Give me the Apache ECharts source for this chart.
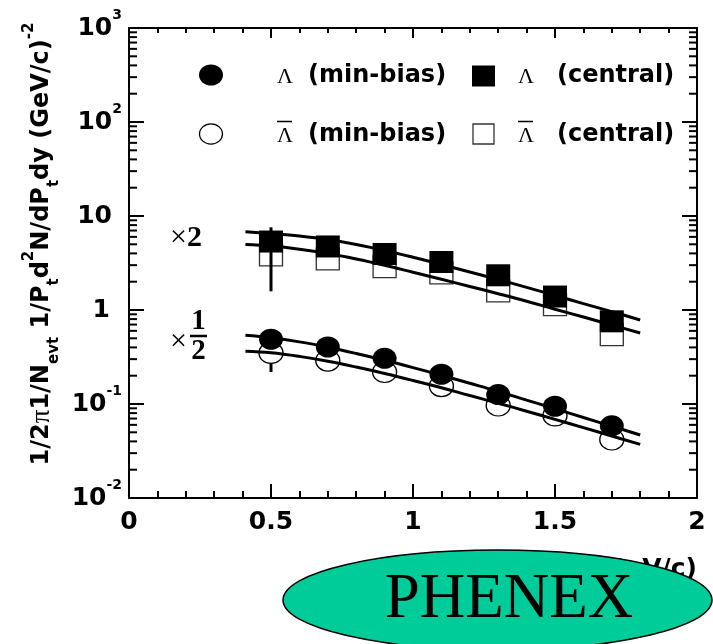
<!DOCTYPE html>
<html>
<head>
<meta charset="utf-8">
<script src="https://cdn.jsdelivr.net/npm/echarts@6/dist/echarts.min.js"></script>
<style>
  html, body { margin: 0; padding: 0; background: #ffffff; }
  #chart { width: 713px; height: 644px; }
</style>
</head>
<body>
<div id="chart"></div>
<script>
// Lambda / anti-Lambda transverse momentum spectra (central scaled x2, min-bias scaled x1/2)
const ptPoints = [0.5, 0.7, 0.9, 1.1, 1.3, 1.5, 1.7];
const lambdaCentral = [5.35, 4.74, 3.94, 3.24, 2.34, 1.39, 0.758];
const antiLambdaCentral = [3.85, 3.49, 2.90, 2.48, 1.60, 1.14, 0.546];
const lambdaMinBias = [0.488, 0.404, 0.306, 0.207, 0.126, 0.0946, 0.0586];
const antiLambdaMinBias = [0.349, 0.290, 0.219, 0.155, 0.0964, 0.0755, 0.0419];

// error bars drawn at pT = 0.5: [pT, low, high]
const centralErrorBar = [0.5, 1.58, 7.58];
const minBiasErrorBar = [0.5, 0.219, 0.48];

// fitted curves
const fitPt = [0.41, 0.5, 0.6, 0.7, 0.8, 0.9, 1.0, 1.1, 1.2, 1.3, 1.4, 1.5, 1.6, 1.7, 1.8];
const fitLambdaCentral = [6.81, 6.50, 6.11, 5.61, 4.98, 4.30, 3.64, 3.05, 2.54, 2.11, 1.74, 1.43, 1.17, 0.962, 0.783];
const fitAntiLambdaCentral = [4.98, 4.79, 4.43, 3.99, 3.49, 2.99, 2.52, 2.12, 1.78, 1.49, 1.24, 1.02, 0.843, 0.693, 0.569];
const fitLambdaMinBias = [0.538, 0.507, 0.458, 0.402, 0.345, 0.292, 0.244, 0.202, 0.166, 0.136, 0.110, 0.0891, 0.0719, 0.0581, 0.0468];
const fitAntiLambdaMinBias = [0.364, 0.351, 0.321, 0.285, 0.247, 0.211, 0.178, 0.149, 0.123, 0.102, 0.0838, 0.0686, 0.0560, 0.0457, 0.0372];

// axes
const xMin = 0, xMax = 2, xStep = 0.5;
const yMin = 0.01, yMax = 1000;
const yTickValues = [0.01, 0.1, 1, 10, 100, 1000];
const yTickLabels = ['10{sup|-2}', '10{sup|-1}', '1{pad1|}', '10{pad10|}', '10{sup|2}', '10{sup|3}'];
const yMinorTickValues = [];
for (let e = -2; e < 3; e++) {
  for (let m = 2; m <= 9; m++) yMinorTickValues.push(m * Math.pow(10, e));
}

const SANS = '"DejaVu Sans", "Liberation Sans", sans-serif';
const SERIF = '"Liberation Serif", "DejaVu Serif", serif';

const pair = (xs, ys) => xs.map((x, i) => [x, ys[i]]);

const chart = echarts.init(document.getElementById('chart'), null, { renderer: 'canvas' });

const axisLineStyle = { show: true, onZero: false, lineStyle: { color: '#000', width: 2 } };

function errorBarRenderer(params, api) {
  const x = api.value(0);
  const lo = api.coord([x, api.value(1)]);
  const hi = api.coord([x, api.value(2)]);
  return {
    type: 'line',
    shape: { x1: lo[0], y1: lo[1], x2: hi[0], y2: hi[1] },
    style: { stroke: '#000', lineWidth: 3 }
  };
}

const fitLine = (data) => ({
  type: 'line',
  data: data,
  smooth: 0.4,
  symbol: 'none',
  z: 3,
  silent: true,
  lineStyle: { color: '#000', width: 3 }
});

const option = {
  animation: false,
  backgroundColor: '#ffffff',
  grid: { left: 129, right: 16, top: 28, bottom: 146, outerBoundsMode: 'none' },
  xAxis: [
    {
      type: 'value', position: 'bottom', min: xMin, max: xMax, interval: xStep,
      axisLine: axisLineStyle,
      axisTick: { show: true, inside: true, length: 14, lineStyle: { color: '#000', width: 2 } },
      minorTick: { show: true, splitNumber: 5, length: 7, lineStyle: { color: '#000', width: 2 } },
      splitLine: { show: false },
      axisLabel: {
        show: true, margin: 12, color: '#000',
        fontFamily: SANS, fontWeight: 'bold', fontSize: 25,
        formatter: (v) => String(v)
      },
      name: 'P{t|t} (GeV/c)',
      nameLocation: 'end',
      nameGap: 0,
      nameTextStyle: {
        color: '#000', fontFamily: SANS, fontWeight: 'bold', fontSize: 25,
        align: 'right', verticalAlign: 'top', padding: [59, 0, 0, 0],
        rich: { t: { fontFamily: SANS, fontWeight: 'bold', fontSize: 15, verticalAlign: 'bottom', lineHeight: 24 } }
      }
    },
    {
      type: 'value', position: 'top', min: xMin, max: xMax, interval: xStep,
      axisLine: axisLineStyle,
      axisTick: { show: true, inside: true, length: 10, lineStyle: { color: '#000', width: 2 } },
      minorTick: { show: true, splitNumber: 5, length: 5, lineStyle: { color: '#000', width: 2 } },
      splitLine: { show: false },
      axisLabel: { show: false }
    }
  ],
  yAxis: [
    {
      type: 'log', logBase: 10, min: yMin, max: yMax, splitNumber: 5, position: 'left',
      axisLine: axisLineStyle,
      axisTick: { show: true, inside: true, length: 15, lineStyle: { color: '#000', width: 2 } },
      splitLine: { show: false },
      axisLabel: {
        show: true, margin: 7, color: '#000',
        fontFamily: SANS, fontWeight: 'bold', fontSize: 25, lineHeight: 40,
        formatter: (v) => {
          const e = Math.round(Math.log10(v));
          const i = yTickValues.findIndex((t) => Math.round(Math.log10(t)) === e);
          return i >= 0 ? yTickLabels[i] : '';
        },
        rich: {
          sup: { fontFamily: SANS, fontWeight: 'bold', fontSize: 14, verticalAlign: 'top', lineHeight: 14, color: '#000' },
          pad1: { width: 12 },
          pad10: { width: 10 }
        }
      }
    },
    {
      type: 'log', logBase: 10, min: yMin, max: yMax, splitNumber: 5, position: 'right',
      axisLine: axisLineStyle,
      axisTick: { show: true, inside: true, length: 15, lineStyle: { color: '#000', width: 2 } },
      splitLine: { show: false },
      axisLabel: { show: false }
    }
  ],
  series: [
    // minor ticks of the logarithmic axes (left and right frame edges)
    {
      type: 'custom',
      silent: true,
      z: 1,
      data: yMinorTickValues.map((v) => [xMin, v]),
      renderItem: (params, api) => {
        const v = api.value(1);
        const l = api.coord([xMin, v]);
        const r = api.coord([xMax, v]);
        return {
          type: 'group',
          children: [
            { type: 'line', shape: { x1: l[0], y1: l[1], x2: l[0] + 8, y2: l[1] }, style: { stroke: '#000', lineWidth: 2 } },
            { type: 'line', shape: { x1: r[0] - 8, y1: r[1], x2: r[0], y2: r[1] }, style: { stroke: '#000', lineWidth: 2 } }
          ]
        };
      }
    },
    // min-bias error bar, underneath the markers
    {
      type: 'custom', silent: true, z: 1,
      data: [minBiasErrorBar],
      renderItem: errorBarRenderer
    },
    {
      name: 'anti-Lambda (min-bias)', type: 'scatter', z: 2,
      symbol: 'circle', symbolSize: [24, 21],
      itemStyle: { color: '#ffffff', borderColor: '#000', borderWidth: 1.3, opacity: 1 },
      data: pair(ptPoints, antiLambdaMinBias)
    },
    {
      name: 'anti-Lambda (central)', type: 'scatter', z: 2,
      symbol: 'rect', symbolSize: [23, 22],
      itemStyle: { color: '#ffffff', borderColor: '#333', borderWidth: 1.3, opacity: 1 },
      data: pair(ptPoints, antiLambdaCentral)
    },
    fitLine(pair(fitPt, fitLambdaCentral)),
    fitLine(pair(fitPt, fitAntiLambdaCentral)),
    fitLine(pair(fitPt, fitLambdaMinBias)),
    fitLine(pair(fitPt, fitAntiLambdaMinBias)),
    {
      name: 'Lambda (min-bias)', type: 'scatter', z: 4,
      symbol: 'circle', symbolSize: [24, 21],
      itemStyle: { color: '#000', opacity: 1 },
      data: pair(ptPoints, lambdaMinBias)
    },
    {
      name: 'Lambda (central)', type: 'scatter', z: 4,
      symbol: 'rect', symbolSize: [24, 22],
      itemStyle: { color: '#000', opacity: 1 },
      data: pair(ptPoints, lambdaCentral)
    },
    // central error bar, drawn over the markers
    {
      type: 'custom', silent: true, z: 5,
      data: [centralErrorBar],
      renderItem: errorBarRenderer
    }
  ],
  graphic: [
    // y-axis title
    {
      type: 'text', x: 42, y: 244, rotation: Math.PI / 2, z: 10,
      style: {
        text: '{m|1/2}{p|π}{m|1/N}{s|evt}{m| 1/P}{s|t}{m|d}{u|2}{m|N/dP}{s|t}{m|dy (GeV/c)}{u|-2}',
        align: 'center', verticalAlign: 'middle', fill: '#000',
        rich: {
          m: { fontFamily: SANS, fontWeight: 'bold', fontSize: 24, lineHeight: 40, fill: '#000' },
          p: { fontFamily: SERIF, fontSize: 27, lineHeight: 40, fill: '#000' },
          s: { fontFamily: SANS, fontWeight: 'bold', fontSize: 15, lineHeight: 26, verticalAlign: 'bottom', fill: '#000' },
          u: { fontFamily: SANS, fontWeight: 'bold', fontSize: 15, lineHeight: 12, verticalAlign: 'top', fill: '#000' }
        }
      }
    },
    // legend, row 1
    { type: 'circle', x: 211, y: 75, scaleY: 0.875, shape: { cx: 0, cy: 0, r: 12 }, style: { fill: '#000' }, z: 10 },
    { type: 'text', x: 277, y: 77, z: 10, style: { text: 'Λ', font: '22px ' + SERIF, fill: '#000', align: 'left', verticalAlign: 'middle' } },
    { type: 'text', x: 308, y: 76, z: 10, style: { text: '(min-bias)', font: 'bold 24px ' + SANS, fill: '#000', align: 'left', verticalAlign: 'middle' } },
    { type: 'rect', shape: { x: 472, y: 65.5, width: 23, height: 21 }, style: { fill: '#000' }, z: 10 },
    { type: 'text', x: 518, y: 77, z: 10, style: { text: 'Λ', font: '22px ' + SERIF, fill: '#000', align: 'left', verticalAlign: 'middle' } },
    { type: 'text', x: 557, y: 76, z: 10, style: { text: '(central)', font: 'bold 24px ' + SANS, fill: '#000', align: 'left', verticalAlign: 'middle' } },
    // legend, row 2
    { type: 'circle', x: 211, y: 134, scaleY: 0.875, shape: { cx: 0, cy: 0, r: 11.5 }, style: { fill: '#fff', stroke: '#000', lineWidth: 1.3 }, z: 10 },
    { type: 'text', x: 277, y: 136, z: 10, style: { text: 'Λ', font: '22px ' + SERIF, fill: '#000', align: 'left', verticalAlign: 'middle' } },
    { type: 'line', shape: { x1: 277, y1: 121.5, x2: 292, y2: 121.5 }, style: { stroke: '#000', lineWidth: 1.5 }, z: 10 },
    { type: 'text', x: 308, y: 135, z: 10, style: { text: '(min-bias)', font: 'bold 24px ' + SANS, fill: '#000', align: 'left', verticalAlign: 'middle' } },
    { type: 'rect', shape: { x: 473, y: 124, width: 21, height: 20 }, style: { fill: '#fff', stroke: '#333', lineWidth: 1.3 }, z: 10 },
    { type: 'text', x: 518, y: 136, z: 10, style: { text: 'Λ', font: '22px ' + SERIF, fill: '#000', align: 'left', verticalAlign: 'middle' } },
    { type: 'line', shape: { x1: 518, y1: 121.5, x2: 533, y2: 121.5 }, style: { stroke: '#000', lineWidth: 1.5 }, z: 10 },
    { type: 'text', x: 557, y: 135, z: 10, style: { text: '(central)', font: 'bold 24px ' + SANS, fill: '#000', align: 'left', verticalAlign: 'middle' } },
    // scale factors
    { type: 'text', x: 170, y: 238, z: 10, style: { text: '{x|×}{n|2}', align: 'left', verticalAlign: 'middle', rich: {
      x: { fontFamily: SERIF, fontSize: 30, fill: '#000' },
      n: { fontFamily: SERIF, fontWeight: 'bold', fontSize: 30, fill: '#000' } } } },
    { type: 'text', x: 170, y: 342, z: 10, style: { text: '×', font: '30px ' + SERIF, fill: '#000', align: 'left', verticalAlign: 'middle' } },
    { type: 'text', x: 198.5, y: 322, z: 10, style: { text: '1', font: 'bold 29px ' + SERIF, fill: '#000', align: 'center', verticalAlign: 'middle' } },
    { type: 'line', shape: { x1: 190, y1: 336, x2: 207, y2: 336 }, style: { stroke: '#000', lineWidth: 2.5 }, z: 10 },
    { type: 'text', x: 198.5, y: 352, z: 10, style: { text: '2', font: 'bold 29px ' + SERIF, fill: '#000', align: 'center', verticalAlign: 'middle' } },
    // experiment badge
    { type: 'ellipse', shape: { cx: 497.5, cy: 600, rx: 214.5, ry: 50 }, style: { fill: '#00cc99', stroke: '#000', lineWidth: 1.5 }, z: 100 },
    { type: 'text', x: 509, y: 600, z: 101, style: { text: 'PHENEX', font: '63px ' + SERIF, fill: '#000', align: 'center', verticalAlign: 'middle' } }
  ]
};

chart.setOption(option);
</script>
</body>
</html>
